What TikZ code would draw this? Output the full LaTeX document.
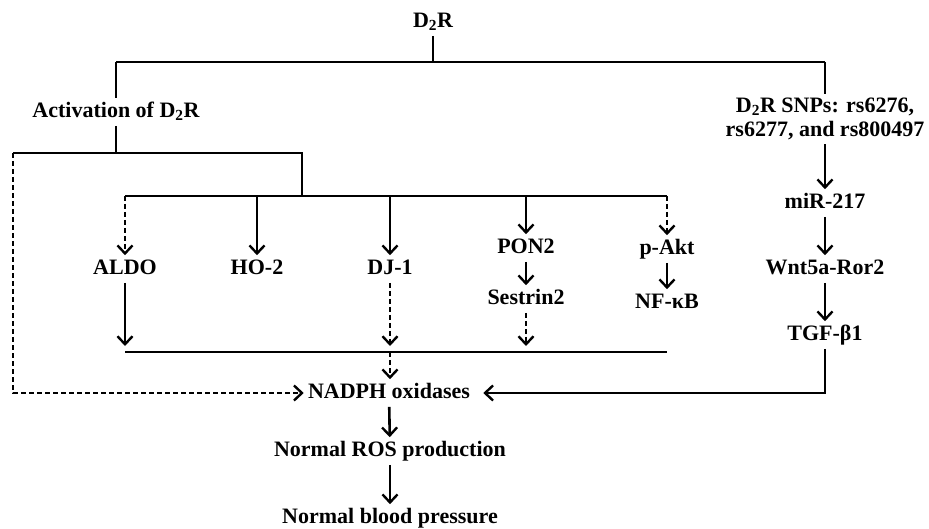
\documentclass[tikz,border=0pt]{standalone}
\usepackage{fontspec}
\setmainfont{Liberation Serif}
\usetikzlibrary{calc,arrows.meta}

\begin{document}
\begin{tikzpicture}[x=1pt,y=-1pt,line width=2.6pt,
  every node/.style={font=\fontsize{22}{24}\selectfont\bfseries,inner sep=3pt},
  lbl/.style={text height=15pt,text depth=4pt},
  arr/.style={-{Straight Barb[length=8pt,width=15pt,line width=2.4pt]}},
  dsh/.style={dash pattern=on 5pt off 3pt}]
  \useasboundingbox (0,0) rectangle (929,529);

  %% Receptor and the two main branches
  \node[lbl] (D2R) at (433,22) {D\textsubscript{2}R};
  \node[lbl] (ACT) at (116,112) {Activation of D\textsubscript{2}R};
  \node[align=center] (SNP) at (825,119) {D\textsubscript{2}R SNPs: rs6276,\\rs6277, and rs800497};
  \coordinate (T0) at (433,62);
  \coordinate (TL) at (116,62);
  \coordinate (TR) at (825,62);
  \draw (D2R) -- (T0);
  \draw (TL) -- (TR);
  \draw (TL) -- (ACT);
  \draw (TR) -- (SNP);

  %% SNP pathway on the right
  \node[lbl] (MIR) at (825,203) {miR-217};
  \node[lbl] (WNT) at (825,269) {Wnt5a-Ror2};
  \node[lbl] (TGF) at (825,335) {TGF-β1};
  \foreach \a/\b in {SNP/MIR,MIR/WNT,WNT/TGF}
    \draw[arr] (\a) -- (\b);

  %% Activation splits into the targets
  \coordinate (A1) at (116,153);
  \coordinate (L1) at (13,153);
  \coordinate (R1) at (302,153);
  \coordinate (J2) at (302,196);
  \draw (ACT) -- (A1);
  \draw (L1) -- (R1) -- (J2);
  \draw (125,196) coordinate (B2L) -- (667,196) coordinate (B2R);

  \node[lbl] (ALDO) at (125,269) {ALDO};
  \node[lbl] (HO2)  at (257,269) {HO-2};
  \node[lbl] (DJ1)  at (390,269) {DJ-1};
  \node[lbl] (PON2) at (526,248) {PON2};
  \node[lbl] (SES)  at (526,299) {Sestrin2};
  \node[lbl] (PAKT) at (667,249) {p-Akt};
  \node[lbl] (NFKB) at (667,303) {NF-κB};

  \foreach \n/\s in {ALDO/dsh,HO2/,DJ1/,PON2/,PAKT/dsh}
  {
    \coordinate (B\n) at (\n.north |- B2L);
    \draw[arr,\s] (B\n) -- (\n);
  }
  \draw[arr] (PON2) -- (SES);
  \draw[arr] (PAKT) -- (NFKB);

  %% Collecting bar above NADPH oxidases
  \draw (125,352) coordinate (B3L) -- (667,352) coordinate (B3R);
  \foreach \n/\s in {ALDO/,DJ1/dsh,SES/dsh}
  {
    \coordinate (C\n) at (\n.south |- B3L);
    \draw[arr,\s,shorten >=6pt] (\n) -- (C\n);
  }

  \node[lbl] (NADPH) at (389,393) {NADPH oxidases};
  \node[lbl] (ROS) at (390,451) {Normal ROS production};
  \node[lbl] (BP) at (390,518) {Normal blood pressure};

  \draw[arr,dsh] (CDJ1) -- (CDJ1 |- NADPH.north);
  \draw[arr,dsh] (L1) -- (L1 |- NADPH) -- (NADPH);
  \draw[arr,shorten >=9pt] (TGF) -- (TGF |- NADPH) -- (NADPH);
  \draw[arr] (NADPH) -- (ROS);
  \draw[arr] (ROS) -- (BP);

\end{tikzpicture}
\end{document}
